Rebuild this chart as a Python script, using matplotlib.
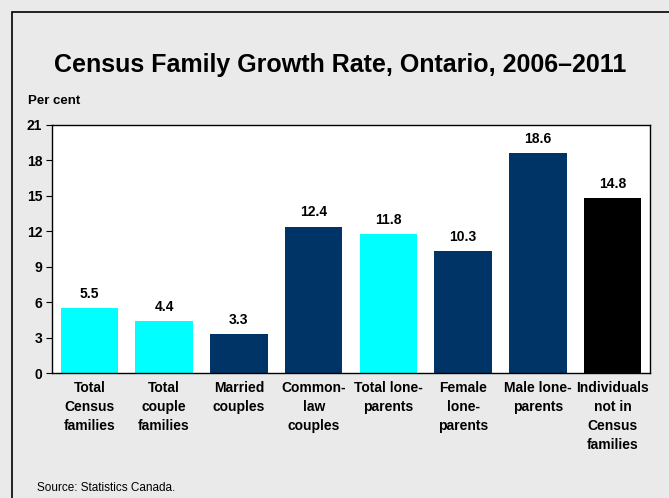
import numpy as np
import matplotlib.pyplot as plt
from matplotlib.patches import Rectangle

plt.rcParams['font.family'] = ['Liberation Sans', 'DejaVu Sans']

categories = ['Total\nCensus\nfamilies', 'Total\ncouple\nfamilies', 'Married\ncouples',
              'Common-\nlaw\ncouples', 'Total lone-\nparents', 'Female\nlone-\nparents',
              'Male lone-\nparents', 'Individuals\nnot in\nCensus\nfamilies']
values = [5.5, 4.4, 3.3, 12.4, 11.8, 10.3, 18.6, 14.8]
colors = ['#00FFFF', '#00FFFF', '#003366', '#003366', '#00FFFF', '#003366', '#003366', '#000000']
yticks = [0, 3, 6, 9, 12, 15, 18, 21]

W, H = 669, 498
fig = plt.figure(figsize=(W / 100, H / 100), dpi=100)
fig.patch.set_facecolor('#EAEAEA')
# outer frame, runs off the right and bottom edges
fig.patches.append(Rectangle((12 / W, -0.05), 1.0, 1.05 - 12 / H, transform=fig.transFigure,
                             fill=False, edgecolor='black', linewidth=1.2, clip_on=False))

ax = fig.add_axes([52 / W, 1 - 373 / H, 598 / W, 248 / H])
ax.set_facecolor('white')
x = np.arange(len(values))
ax.bar(x, values, width=0.77, color=colors)
for xi, v in zip(x, values):
    ax.text(xi, v + 0.6, f'{v}', ha='center', va='bottom', fontsize=10, fontweight='bold')

ax.set_xlim(-0.5, len(values) - 0.5)
ax.set_ylim(0, 21)
ax.set_yticks(yticks)
ax.set_yticklabels([str(t) for t in yticks], fontsize=10, fontweight='bold')
ax.set_xticks(x)
ax.set_xticklabels(categories, fontsize=10, fontweight='bold', linespacing=1.45, va='top')
ax.tick_params(axis='x', length=0, pad=6)
ax.tick_params(axis='y', length=4, pad=3)
for s in ax.spines.values():
    s.set_linewidth(1.0)

fig.text(340 / W, 1 - 65 / H, 'Census Family Growth Rate, Ontario, 2006\u20132011',
         ha='center', va='center', fontsize=18, fontweight='bold')
fig.text(28 / W, 1 - 101 / H, 'Per cent', ha='left', va='center', fontsize=9.5, fontweight='bold')
fig.text(37 / W, 1 - 488 / H, 'Source: Statistics Canada.', ha='left', va='center', fontsize=8.5)

fig.savefig('out.png', dpi=100, facecolor=fig.get_facecolor())
